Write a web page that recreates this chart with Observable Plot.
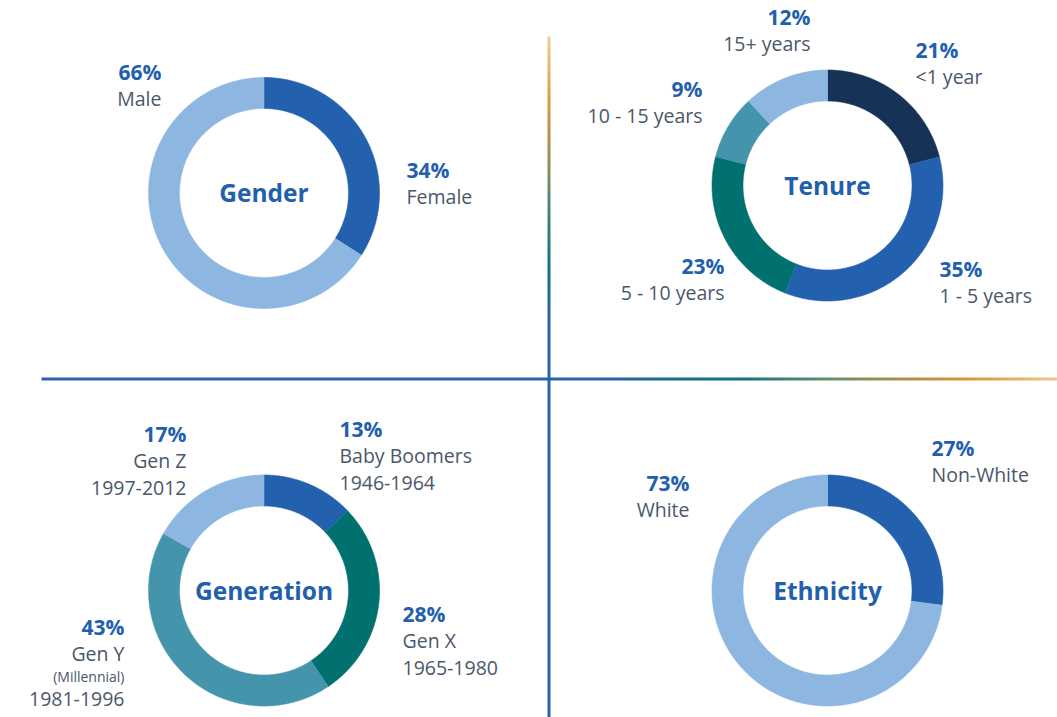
<!DOCTYPE html>
<html>
<head>
<meta charset="utf-8">
<script src="https://cdn.jsdelivr.net/npm/d3@7"></script>
<script src="https://cdn.jsdelivr.net/npm/@observablehq/plot@0.6"></script>
<style>
  html, body { margin: 0; padding: 0; background: #fff; }
  #chart svg { display: block; }
</style>
</head>
<body>
<div id="chart"></div>
<script>
// ---------- DATA ----------
const genderLabels = ["Female", "Male"];
const genderValues = [34, 66];

const tenureLabels = ["<1 year", "1 - 5 years", "5 - 10 years", "10 - 15 years", "15+ years"];
const tenureValues = [21, 35, 23, 9, 12];

const generationLabels = ["Baby Boomers", "Gen X", "Gen Y", "Gen Z"];
const generationYears = ["1946-1964", "1965-1980", "1981-1996", "1997-2012"];
const generationValues = [13, 28, 43, 17];

const ethnicityLabels = ["Non-White", "White"];
const ethnicityValues = [27, 73];

const titles = ["Gender", "Tenure", "Generation", "Ethnicity"];

// ---------- STYLE / LAYOUT ----------
const BLUE = "#2360ae", LIGHT = "#8db7e0", NAVY = "#163257", TEAL = "#00716f", MIDTEAL = "#4495ab";
const PCT = "#2260ad", GREY = "#4a586a";
const FONT = "'Open Sans', 'DejaVu Sans', sans-serif";
const R_OUT = 115.5, R_IN = 84.5;

const donuts = [
  {title: titles[0], labels: genderLabels, values: genderValues, colors: [BLUE, LIGHT], cx: 263.5, cy: 192.5},
  {title: titles[1], labels: tenureLabels, values: tenureValues, colors: [NAVY, BLUE, TEAL, MIDTEAL, LIGHT], cx: 827, cy: 185},
  {title: titles[2], labels: generationLabels, values: generationValues, colors: [BLUE, TEAL, MIDTEAL, LIGHT], cx: 263.5, cy: 590},
  {title: titles[3], labels: ethnicityLabels, values: ethnicityValues, colors: [BLUE, LIGHT], cx: 827, cy: 590}
];

// label anchor positions (layout only): [x, y of first line, textAnchor]
const labelPos = {
  "Gender": [[406, 171, "start"], [161, 73, "end"]],
  "Tenure": [[915, 51, "start"], [939, 270, "start"], [724, 267, "end"], [702, 90, "end"], [810, 18, "end"]],
  "Generation": [[339, 430, "start"], [402, 615, "start"], [124, 628, "end"], [186, 435, "end"]],
  "Ethnicity": [[931, 449, "start"], [689, 484, "end"]]
};
const LINE = 26.5;

// ---------- BUILD MARK DATA ----------
const slicePts = [];
const colorDomain = [], colorRange = [];
const pctText = [], labText = [], smallText = [], titleText = [];

donuts.forEach(dn => {
  const arcs = d3.pie().sort(null).value(d => d)(dn.values);
  arcs.forEach((a, i) => {
    const key = dn.title + ":" + dn.labels[i];
    colorDomain.push(key); colorRange.push(dn.colors[i]);
    const n = Math.max(2, Math.ceil((a.endAngle - a.startAngle) / (Math.PI / 360)));
    for (let k = 0; k <= n; k++) {
      const t = a.startAngle + (a.endAngle - a.startAngle) * k / n;
      slicePts.push({key, x: dn.cx + R_OUT * Math.sin(t), y: dn.cy - R_OUT * Math.cos(t)});
    }
    for (let k = n; k >= 0; k--) {
      const t = a.startAngle + (a.endAngle - a.startAngle) * k / n;
      slicePts.push({key, x: dn.cx + R_IN * Math.sin(t), y: dn.cy - R_IN * Math.cos(t)});
    }
    const [lx, ly, anchor] = labelPos[dn.title][i];
    pctText.push({x: lx, y: ly, anchor, text: dn.values[i] + "%"});
    labText.push({x: lx, y: ly + LINE, anchor, text: dn.labels[i]});
    if (dn.title === "Generation") {
      if (dn.labels[i] === "Gen Y") {
        smallText.push({x: lx, y: ly + LINE * 1.85, anchor, text: "(Millennial)"});
        labText.push({x: lx, y: ly + LINE * 2.7, anchor, text: generationYears[i]});
      } else {
        labText.push({x: lx, y: ly + LINE * 2, anchor, text: generationYears[i]});
      }
    }
  });
  titleText.push({x: dn.cx, y: dn.cy + 1.5, text: dn.title});
});

// gradient definitions for the divider lines
const gradientDefs = () => {
  const defs = d3.create("svg:defs");
  const v = defs.append("linearGradient").attr("id", "vgrad").attr("gradientUnits", "userSpaceOnUse")
    .attr("x1", 0).attr("x2", 0).attr("y1", 36).attr("y2", 717);
  [[36, "#eccf95"], [100, "#db9a40"], [140, "#b0904c"], [175, "#7f9060"], [215, "#3e8577"], [265, "#12767e"], [325, "#2a64ae"], [717, "#2a64ae"]]
    .forEach(([y, c]) => v.append("stop").attr("offset", (y - 36) / (717 - 36)).attr("stop-color", c));
  const h = defs.append("linearGradient").attr("id", "hgrad").attr("gradientUnits", "userSpaceOnUse")
    .attr("x1", 41).attr("x2", 1057).attr("y1", 0).attr("y2", 0);
  [[41, "#2a62ae"], [600, "#2a62ae"], [700, "#10717a"], [740, "#10717a"], [823, "#5f9070"], [883, "#9a9050"], [967, "#d9953a"], [1057, "#ebc98c"]]
    .forEach(([x, c]) => h.append("stop").attr("offset", (x - 41) / (1057 - 41)).attr("stop-color", c));
  return defs.node();
};

const dividers = [
  {x1: 548.5, y1: 36, x2: 548.5, y2: 717, g: "v"},
  {x1: 41, y1: 378.5, x2: 1057, y2: 378.5, g: "h"}
];

const chart = Plot.plot({
  width: 1057,
  height: 717,
  margin: 0,
  x: {domain: [0, 1057], range: [0, 1057], axis: null},
  y: {domain: [0, 717], range: [0, 717], axis: null},
  color: {type: "ordinal", domain: colorDomain, range: colorRange},
  style: {fontFamily: FONT, background: "#fff"},
  marks: [
    gradientDefs,
    Plot.link(dividers.filter(d => d.g === "v"), {x1: "x1", y1: "y1", x2: "x2", y2: "y2", stroke: "url(#vgrad)", strokeWidth: 3}),
    Plot.link(dividers.filter(d => d.g === "h"), {x1: "x1", y1: "y1", x2: "x2", y2: "y2", stroke: "url(#hgrad)", strokeWidth: 3}),
    Plot.line(slicePts, {x: "x", y: "y", z: "key", fill: "key", stroke: "key", strokeWidth: 0.6, curve: "linear"}),
    Plot.text(pctText.filter(d => d.anchor === "start"), {x: "x", y: "y", text: "text", textAnchor: "start", fill: PCT, fontWeight: "bold", fontSize: 21, fontFamily: FONT}),
    Plot.text(pctText.filter(d => d.anchor === "end"), {x: "x", y: "y", text: "text", textAnchor: "end", fill: PCT, fontWeight: "bold", fontSize: 21, fontFamily: FONT}),
    Plot.text(labText.filter(d => d.anchor === "start"), {x: "x", y: "y", text: "text", textAnchor: "start", fill: GREY, fontSize: 19.5, fontFamily: FONT}),
    Plot.text(labText.filter(d => d.anchor === "end"), {x: "x", y: "y", text: "text", textAnchor: "end", fill: GREY, fontSize: 19.5, fontFamily: FONT}),
    Plot.text(smallText, {x: "x", y: "y", text: "text", textAnchor: "end", fill: GREY, fontSize: 14, fontFamily: FONT}),
    Plot.text(titleText, {x: "x", y: "y", text: "text", fill: PCT, fontWeight: "bold", fontSize: 24.5, fontFamily: FONT})
  ]
});
document.getElementById("chart").appendChild(chart);
</script>
</body>
</html>
